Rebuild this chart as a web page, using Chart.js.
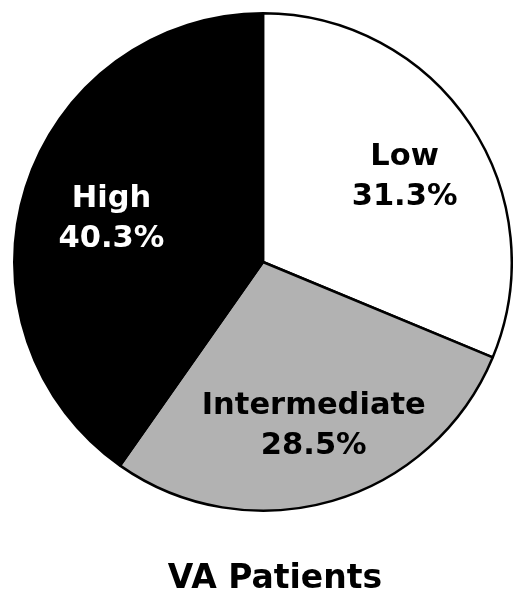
<!DOCTYPE html>
<html lang="en">
  <head>
    <meta charset="UTF-8" />
    <title>VA Patients</title>
    <script src="https://cdn.jsdelivr.net/npm/chart.js"></script>
    <style>
      html, body { margin: 0; padding: 0; background: #fff; }
    </style>
  </head>
  <body>
    <canvas id="myChart" width="513" height="594"></canvas>

    <script>
      const labels = ["Low", "Intermediate", "High"];
      const values = [31.3, 28.5, 40.3];
      const sliceColors = ["#ffffff", "#b2b2b2", "#000000"];
      const textColors = ["#000000", "#000000", "#ffffff"];
      const chartTitle = "VA Patients";

      // writes "name / xx.x%" inside each slice, plus the caption under the pie
      const sliceLabels = {
        id: "sliceLabels",
        afterDatasetsDraw(chart) {
          const ctx = chart.ctx;
          const meta = chart.getDatasetMeta(0);
          ctx.save();
          ctx.font = "bold 30.5px 'DejaVu Sans'";
          ctx.textAlign = "center";
          ctx.textBaseline = "alphabetic";
          meta.data.forEach((arc, i) => {
            const p = arc.getProps(["x", "y", "startAngle", "endAngle", "outerRadius"], true);
            const mid = (p.startAngle + p.endAngle) / 2;
            const d = p.outerRadius * 0.66;
            const cx = p.x + Math.cos(mid) * d + 5;
            const cy = p.y + Math.sin(mid) * d + 4;
            ctx.fillStyle = textColors[i];
            ctx.fillText(labels[i], cx, cy - 10);
            ctx.fillText(values[i].toFixed(1) + "%", cx, cy + 30);
          });

          // caption sits a little right of the pie centre in the original
          ctx.font = "bold 33px 'DejaVu Sans'";
          ctx.fillStyle = "#000000";
          ctx.fillText(chartTitle, chart.chartArea.left + chart.chartArea.width / 2 + 12, 588);
          ctx.restore();
        },
      };

      const ctx = document.getElementById("myChart").getContext("2d");
      const myChart = new Chart(ctx, {
        type: "pie",
        data: {
          labels: labels,
          datasets: [
            {
              data: values,
              backgroundColor: sliceColors,
              borderColor: "#000000",
              borderWidth: 2.5,
            },
          ],
        },
        options: {
          responsive: false,
          animation: false,
          layout: { padding: { left: 13, top: 12, right: 0, bottom: 82 } },
          plugins: {
            legend: { display: false },
            tooltip: { enabled: false },
            title: { display: false },
          },
        },
        plugins: [sliceLabels],
      });
    </script>
  </body>
</html>
